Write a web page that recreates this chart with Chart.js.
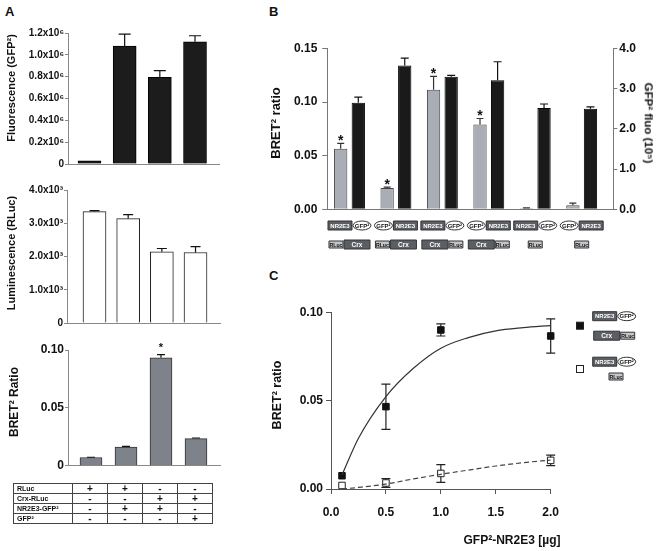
<!DOCTYPE html>
<html>
<head>
<meta charset="utf-8">
<script src="https://cdn.jsdelivr.net/npm/chart.js@4.4.1/dist/chart.umd.min.js"></script>
<style>
  body { margin: 0; background: #fff; }
  #fig { position: relative; width: 662px; height: 551px; overflow: hidden;
         font-family: "Liberation Sans", Arial, sans-serif; font-weight: bold; color: #111; }
  #fig canvas { position: absolute; }
  .lbl { position: absolute; white-space: nowrap; line-height: 1; }
  .rot { transform: translate(-50%, -50%) rotate(-90deg); }
  .rotR { transform: translate(-50%, -50%) rotate(90deg); }
  .mid { transform: translate(-50%, -50%); }
  .panel { position: absolute; font-size: 13px; line-height: 1; }
  table.cond { position: absolute; left: 13px; top: 483px; border-collapse: collapse; font-size: 7px;
               will-change: transform; background: #fff; color: #111; }
  table.cond td { border: 1px solid #444; height: 9px; padding: 0 0 0 3px; line-height: 8px; }
  table.cond td.s { text-align: center; font-size: 10px; padding: 0; width: 34px; }
</style>
</head>
<body>
<div id="fig">
  <div class="panel" style="left:5px; top:5px;">A</div>
  <div class="panel" style="left:269px; top:5px;">B</div>
  <div class="panel" style="left:269px; top:269px;">C</div>

  <canvas id="aFluo" width="228" height="154" style="left:0px; top:18px;"></canvas>
  <canvas id="aLum" width="228" height="154" style="left:0px; top:176px;"></canvas>
  <canvas id="aBret" width="228" height="140" style="left:0px; top:334px;"></canvas>
  <canvas id="bChart" width="392" height="230" style="left:270px; top:30px;"></canvas>
  <canvas id="cChart" width="392" height="256" style="left:270px; top:295px;"></canvas>

  <div class="lbl rot" style="left:10.5px; top:88px; font-size:11px;">Fluorescence (GFP²)</div>
  <div class="lbl rot" style="left:10.5px; top:253px; font-size:11px;">Luminescence (RLuc)</div>
  <div class="lbl rot" style="left:14px; top:402px; font-size:12px;">BRET² Ratio</div>
  <div class="lbl rot" style="left:275px; top:123px; font-size:13px;">BRET² ratio</div>
  <div class="lbl rotR" style="left:648px; top:123px; font-size:11.5px;">GFP² fluo (10⁵)</div>
  <div class="lbl rot" style="left:277px; top:395px; font-size:12.5px;">BRET² ratio</div>
  <div class="lbl mid" style="left:512px; top:540px; font-size:12px;">GFP²-NR2E3 [µg]</div>
</div>

<script>
// ---- panel A data ----
var aFluoValues = [0.028e6, 1.08e6, 0.795e6, 1.12e6];
var aFluoErrors = [0, 0.11e6, 0.06e6, 0.055e6];
var aFluoTicks = ['0', '0.2x10⁶', '0.4x10⁶', '0.6x10⁶', '0.8x10⁶', '1.0x10⁶', '1.2x10⁶'];

var aLumValues = [3350, 3140, 2140, 2120];
var aLumErrors = [30, 120, 100, 180];
var aLumTicks = ['0', '1.0x10³', '2.0x10³', '3.0x10³', '4.0x10³'];

var aBretValues = [0.0072, 0.0162, 0.0932, 0.0235];
var aBretErrors = [0.0002, 0.0005, 0.0028, 0.0005];
var aBretStars = [false, false, true, false];
var aBretTicks = ['0', '0.05', '0.10'];

var aTableRows = ['RLuc', 'Crx-RLuc', 'NR2E3-GFP²', 'GFP²'];
var aTableSigns = [
    ['+', '+', '-', '-'],
    ['-', '-', '+', '+'],
    ['-', '+', '+', '-'],
    ['-', '-', '-', '+']
];

// ---- panel B data ----
var bBretValues = [0.0565, 0.0198, 0.1115, 0.0790, 0.0010, 0.0037];
var bBretErrors = [0.0050, 0.0008, 0.0125, 0.0057, 0.0003, 0.0020];
var bBretStars = [true, true, true, true, false, false];
var bFluoValues = [2.65, 3.58, 3.30, 3.21, 2.52, 2.50];
var bFluoErrors = [0.14, 0.18, 0.03, 0.46, 0.10, 0.05];
var bLeftTicks = ['0.00', '0.05', '0.10', '0.15'];
var bRightTicks = ['0.0', '1.0', '2.0', '3.0', '4.0'];
var bTopConstructs = [['NR2E3', 'GFP²'], ['GFP²', 'NR2E3'], ['NR2E3', 'GFP²'], ['GFP²', 'NR2E3'], ['NR2E3', 'GFP²'], ['GFP²', 'NR2E3']];
var bBottomConstructs = [['RLuc', 'Crx'], ['RLuc', 'Crx'], ['Crx', 'RLuc'], ['Crx', 'RLuc'], ['RLuc'], ['RLuc']];

// ---- panel C data ----
var cDoses = [0.1, 0.5, 1.0, 2.0];
var cCrxValues = [0.0075, 0.0466, 0.0900, 0.0866];
var cCrxErrors = [0, 0.0128, 0.0034, 0.0097];
var cRlucValues = [0.0020, 0.0034, 0.0088, 0.0162];
var cRlucErrors = [0, 0.0025, 0.0050, 0.0030];
var cFitX = [0.1, 0.25, 0.5, 0.75, 1.0, 1.25, 1.5, 1.75, 2.0];
var cCrxFit = [0.0079, 0.0287, 0.0523, 0.0683, 0.0797, 0.0857, 0.0895, 0.0913, 0.0925];
var cRlucFit = [0.0, 0.0009, 0.0028, 0.0057, 0.0083, 0.0107, 0.0130, 0.0149, 0.0164];
var cXTicks = ['0.0', '0.5', '1.0', '1.5', '2.0'];
var cYTicks = ['0.00', '0.05', '0.10'];

var FONT = '"Liberation Sans", Arial, sans-serif';
Chart.defaults.font.family = FONT;
Chart.defaults.font.weight = 'bold';
Chart.defaults.color = '#111';
Chart.defaults.animation = false;
Chart.defaults.responsive = false;
Chart.defaults.devicePixelRatio = 1;
Chart.defaults.plugins.legend.display = false;
Chart.defaults.plugins.tooltip.enabled = false;

// condition table under panel A
(function() {
    var t = document.createElement('table');
    t.className = 'cond';
    aTableRows.forEach(function(name, r) {
        var tr = document.createElement('tr');
        var th = document.createElement('td');
        th.style.width = '55px';
        th.textContent = name;
        tr.appendChild(th);
        aTableSigns[r].forEach(function(s) {
            var td = document.createElement('td');
            td.className = 's';
            td.textContent = s;
            tr.appendChild(td);
        });
        t.appendChild(tr);
    });
    document.getElementById('fig').appendChild(t);
})();

// error bars + significance stars, read from dataset fields
function drawErrors(chart, layer) {
    var ctx = chart.ctx;
    chart.data.datasets.forEach(function(ds, i) {
        if (!ds.errorBars || (ds.errorLayer || 'after') !== layer) return;
        var meta = chart.getDatasetMeta(i);
        var yScale = chart.scales[meta.yAxisID];
        ctx.save();
        ctx.strokeStyle = ds.errorColor || '#111';
        ctx.lineWidth = 1.2;
        meta.data.forEach(function(el, j) {
            var err = ds.errorBars[j] || 0;
            var v = ds.data[j].y;
            var x = el.x;
            var yTop = yScale.getPixelForValue(v + err);
            var half = (ds.errorCap || 8) / 2;
            if (err > 0) {
                var yBot = ds.errorBoth ? yScale.getPixelForValue(v - err) : el.y;
                ctx.beginPath();
                ctx.moveTo(x, yBot); ctx.lineTo(x, yTop);
                ctx.moveTo(x - half, yTop); ctx.lineTo(x + half, yTop);
                if (ds.errorBoth) { ctx.moveTo(x - half, yBot); ctx.lineTo(x + half, yBot); }
                ctx.stroke();
            }
            if (ds.stars && ds.stars[j]) {
                ctx.fillStyle = '#111';
                ctx.font = ds.starFont || ('bold 14px ' + FONT);
                ctx.textAlign = 'center';
                ctx.textBaseline = 'alphabetic';
                ctx.fillText('*', x, yTop - (ds.starGap || 0));
            }
        });
        ctx.restore();
    });
}
var errorBarPlugin = {
    id: 'errorBars',
    beforeDatasetsDraw: function(chart) { drawErrors(chart, 'before'); },
    afterDatasetsDraw: function(chart) { drawErrors(chart, 'after'); }
};

// little construct cartoons (boxes / ellipse)
var partStyles = {
    'NR2E3': { w: 25, h: 10, fill: '#5b5f64', text: '#fff', shape: 'rect', size: 6 },
    'Crx':   { w: 27, h: 10, fill: '#5b5f64', text: '#fff', shape: 'rect', size: 6.5 },
    'RLuc':  { w: 15, h: 8,  fill: '#c3c5c9', text: '#111', shape: 'rect', size: 5.5 },
    'GFP²':  { w: 19, h: 9,  fill: '#fff',    text: '#111', shape: 'ellipse', size: 6 }
};
function drawConstruct(ctx, parts, cx, cy) {
    var total = 0;
    parts.forEach(function(p) { total += partStyles[p].w; });
    var x = cx - total / 2;
    ctx.save();
    parts.forEach(function(p) {
        var st = partStyles[p];
        ctx.fillStyle = st.fill;
        ctx.strokeStyle = '#333';
        ctx.lineWidth = 1;
        ctx.beginPath();
        if (st.shape === 'ellipse') {
            ctx.ellipse(x + st.w / 2, cy, st.w / 2 - 0.5, st.h / 2, 0, 0, Math.PI * 2);
        } else {
            ctx.rect(x + 0.5, cy - st.h / 2 + 0.5, st.w - 1, st.h - 1);
        }
        ctx.fill();
        ctx.stroke();
        ctx.fillStyle = st.text;
        ctx.font = 'bold ' + st.size + 'px ' + FONT;
        ctx.textAlign = 'center';
        ctx.textBaseline = 'middle';
        ctx.fillText(p, x + st.w / 2, cy + 0.5, st.w - 2);
        x += st.w;
    });
    ctx.restore();
}

function tickFrom(list) {
    return function(v, i) { return list[i]; };
}

// panel A: three stacked bar charts
function panelABar(id, values, errors, o) {
    return new Chart(document.getElementById(id), {
        type: 'bar',
        data: {
            datasets: [{
                data: values.map(function(v, i) { return { x: i + 1, y: v }; }),
                backgroundColor: o.fill,
                borderColor: o.edge,
                borderWidth: 1,
                barThickness: o.barWidth,
                errorBars: errors,
                errorCap: o.cap,
                errorColor: '#111',
                stars: o.stars,
                starFont: 'bold 11px ' + FONT,
                starGap: 4
            }]
        },
        options: {
            layout: { padding: { top: o.padTop, right: o.padRight, left: 0, bottom: 0 } },
            scales: {
                x: {
                    type: 'linear', min: o.xMin, max: o.xMax, offset: false,
                    ticks: { display: false, stepSize: 1, includeBounds: false },
                    grid: { display: false, offset: false },
                    border: { color: '#888' },
                    afterFit: function(s) { s.height = o.xHeight; }
                },
                y: {
                    min: 0, max: o.yMax,
                    ticks: { stepSize: o.yStep, font: { size: o.tickSize }, padding: 1, callback: tickFrom(o.ticks) },
                    grid: { drawOnChartArea: false, tickLength: 3, color: '#888' },
                    border: { color: '#888' },
                    afterFit: function(s) { s.width = o.yWidth; }
                }
            }
        },
        plugins: [errorBarPlugin]
    });
}

panelABar('aFluo', aFluoValues, aFluoErrors, {
    fill: '#1c1c1c', edge: '#000', barWidth: 23, cap: 12,
    padTop: 15, padRight: 9, xMin: 0.389, xMax: 4.682, xHeight: 8, yWidth: 68,
    yMax: 1.2e6, yStep: 0.2e6, tickSize: 10, ticks: aFluoTicks
});
panelABar('aLum', aLumValues, aLumErrors, {
    fill: '#fff', edge: '#222', barWidth: 23, cap: 10,
    padTop: 14, padRight: 8, xMin: 0.183, xMax: 4.727, xHeight: 6.7, yWidth: 67,
    yMax: 4000, yStep: 1000, tickSize: 10, ticks: aLumTicks
});
panelABar('aBret', aBretValues, aBretErrors, {
    fill: '#7d828b', edge: '#333', barWidth: 22, cap: 8, stars: aBretStars,
    padTop: 16, padRight: 8, xMin: 0.343, xMax: 4.686, xHeight: 5.7, yWidth: 68,
    yMax: 0.10, yStep: 0.05, tickSize: 12, ticks: aBretTicks
});

// panel B: BRET ratio (left axis) and GFP2 fluorescence (right axis)
new Chart(document.getElementById('bChart'), {
    type: 'bar',
    data: {
        datasets: [{
            data: bBretValues.map(function(v, i) { return { x: i + 1, y: v }; }),
            yAxisID: 'y',
            backgroundColor: '#a9adb5',
            borderColor: '#444',
            borderWidth: 1,
            categoryPercentage: 0.758,
            barPercentage: 0.756,
            errorBars: bBretErrors,
            errorCap: 7,
            errorColor: '#333',
            stars: bBretStars,
            starGap: -1.5
        }, {
            data: bFluoValues.map(function(v, i) { return { x: i + 1, y: v }; }),
            yAxisID: 'y1',
            backgroundColor: '#1a1a1a',
            borderColor: '#000',
            borderWidth: 1,
            categoryPercentage: 0.758,
            barPercentage: 0.756,
            errorBars: bFluoErrors,
            errorCap: 8,
            errorColor: '#111'
        }]
    },
    options: {
        layout: { padding: { top: 18.5, right: 0, left: 0, bottom: 0 } },
        scales: {
            x: {
                type: 'linear', min: 0.522, max: 6.681, offset: false,
                ticks: { display: false, stepSize: 1, includeBounds: false },
                grid: { display: false, offset: false },
                border: { color: '#777' },
                afterFit: function(s) { s.height = 50.7; }
            },
            y: {
                position: 'left', min: 0, max: 0.15,
                ticks: { stepSize: 0.05, font: { size: 12 }, padding: 5, callback: tickFrom(bLeftTicks) },
                grid: { drawOnChartArea: false, tickLength: 5, color: '#777' },
                border: { color: '#777' },
                afterFit: function(s) { s.width = 57.3; }
            },
            y1: {
                type: 'linear', position: 'right', min: 0, max: 4,
                ticks: { stepSize: 1, font: { size: 12 }, padding: 2, callback: tickFrom(bRightTicks) },
                grid: { drawOnChartArea: false, tickLength: 4, color: '#777' },
                border: { color: '#777' },
                afterFit: function(s) { s.width = 48.7; }
            }
        }
    },
    plugins: [errorBarPlugin, {
        id: 'constructs',
        afterDraw: function(chart) {
            var xs = chart.scales.x;
            var base = chart.chartArea.bottom;
            bTopConstructs.forEach(function(parts, i) {
                var cx = xs.getPixelForValue(i + 1);
                drawConstruct(chart.ctx, parts, cx, base + 16.2);
                drawConstruct(chart.ctx, bBottomConstructs[i], cx, base + 35.2);
            });
        }
    }]
});

// panel C: saturation curves
function pts(xs, ys) {
    return xs.map(function(x, i) { return { x: x, y: ys[i] }; });
}
new Chart(document.getElementById('cChart'), {
    type: 'scatter',
    data: {
        datasets: [{
            data: pts(cFitX, cCrxFit),
            showLine: true, pointRadius: 0, borderColor: '#333', borderWidth: 1.2,
            cubicInterpolationMode: 'monotone', clip: false
        }, {
            data: pts(cFitX, cRlucFit),
            showLine: true, pointRadius: 0, borderColor: '#444', borderWidth: 1.2,
            borderDash: [5, 3], cubicInterpolationMode: 'monotone', clip: false
        }, {
            data: pts(cDoses, cCrxValues),
            pointStyle: 'rect', pointRadius: 4.6, backgroundColor: '#111', borderColor: '#111',
            borderWidth: 1, clip: false,
            errorBars: cCrxErrors, errorBoth: true, errorCap: 9, errorColor: '#222', errorLayer: 'before'
        }, {
            data: pts(cDoses, cRlucValues),
            pointStyle: 'rect', pointRadius: 4.6, backgroundColor: '#fff', borderColor: '#222',
            borderWidth: 1, clip: false,
            errorBars: cRlucErrors, errorBoth: true, errorCap: 9, errorColor: '#222', errorLayer: 'before'
        }]
    },
    options: {
        layout: { padding: { top: 17.3, right: 111.3, left: 0, bottom: 0 } },
        scales: {
            x: {
                type: 'linear', min: 0, max: 2,
                ticks: { stepSize: 0.5, font: { size: 12 }, padding: 11, callback: tickFrom(cXTicks), maxRotation: 0 },
                grid: { drawOnChartArea: false, tickLength: 5, color: '#555' },
                border: { color: '#555' },
                afterFit: function(s) { s.height = 62; }
            },
            y: {
                min: 0, max: 0.10,
                ticks: { stepSize: 0.05, font: { size: 12 }, padding: 3, callback: tickFrom(cYTicks) },
                grid: { drawOnChartArea: false, tickLength: 5, color: '#555' },
                border: { color: '#555' },
                afterFit: function(s) { s.width = 61; }
            }
        }
    },
    plugins: [errorBarPlugin, {
        id: 'constructLegend',
        afterDraw: function(chart) {
            var ctx = chart.ctx;
            var r = chart.chartArea.right;
            ctx.save();
            ctx.lineWidth = 1;
            ctx.strokeStyle = '#222';
            ctx.fillStyle = '#111';
            ctx.fillRect(r + 25.8, 27.2, 7, 7);
            ctx.strokeRect(r + 25.8, 27.2, 7, 7);
            ctx.fillStyle = '#fff';
            ctx.fillRect(r + 25.8, 70.5, 7, 7);
            ctx.strokeRect(r + 25.8, 70.5, 7, 7);
            ctx.restore();
            drawConstruct(ctx, ['NR2E3', 'GFP²'], r + 63.5, 21.2);
            drawConstruct(ctx, ['Crx', 'RLuc'], r + 63.5, 40.7);
            drawConstruct(ctx, ['NR2E3', 'GFP²'], r + 63.5, 66.7);
            drawConstruct(ctx, ['RLuc'], r + 65.3, 81.5);
        }
    }]
});
</script>
</body>
</html>
